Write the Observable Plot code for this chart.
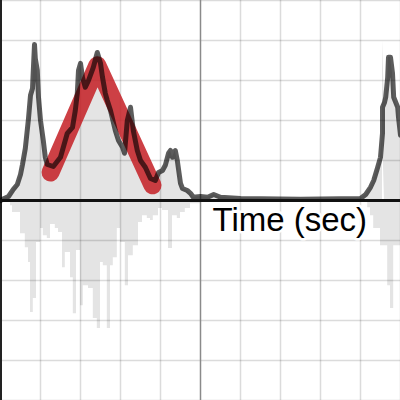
<!DOCTYPE html>
<html>
<head>
<meta charset="utf-8">
<script src="https://cdn.jsdelivr.net/npm/d3@7"></script>
<script src="https://cdn.jsdelivr.net/npm/@observablehq/plot@0.6"></script>
<style>
  html, body { margin: 0; padding: 0; background: #fff; }
  #chart svg { display: block; }
</style>
</head>
<body>
<div id="chart"></div>
<script>
// Envelope (dark gray) — time, amplitude
const envT = [-5,-4.95,-4.8,-4.68,-4.58,-4.5,-4.45,-4.38,-4.3,-4.25,-4.2,-4.18,-4.15,-4.13,-4.08,-4.05,-4.0,-3.93,-3.88,-3.83,-3.68,-3.5,-3.33,-3.2,-3.13,-3.08,-3.05,-3.0,-2.95,-2.88,-2.8,-2.68,-2.58,-2.5,-2.45,-2.38,-2.33,-2.25,-2.13,-2.05,-1.95,-1.9,-1.83,-1.75,-1.68,-1.58,-1.5,-1.38,-1.25,-1.13,-1.05,-0.95,-0.88,-0.8,-0.75,-0.7,-0.63,-0.58,-0.5,-0.45,-0.33,-0.25,-0.18,0,0.18,0.33,0.5,1.0,2.5,4.0,4.13,4.25,4.33,4.43,4.5,4.55,4.55,4.6,4.63,4.68,4.7,4.75,4.8,4.83,4.93,4.95,5.0];
const envV = [0,0.03,0.1,0.28,0.4,0.65,0.9,1.3,2.05,2.63,2.8,3.25,3.9,3.55,3.25,2.58,2.0,1.5,1.08,0.9,0.85,1.08,1.68,1.83,2.25,2.68,3.25,3.43,3.08,2.83,3.0,3.33,3.7,3.43,3.08,2.68,2.5,2.25,1.75,1.5,1.33,1.18,2.0,2.33,1.75,1.25,1.0,0.83,0.55,0.5,0.7,0.75,0.88,1.18,1.25,1.08,1.25,1.0,0.43,0.3,0.25,0.18,0.08,0.1,0.08,0.15,0.08,0.05,0.03,0.05,0.15,0.33,0.5,0.83,1.08,1.68,2.33,2.45,2.58,3.08,3.58,3.58,3.18,2.58,2.33,2.08,1.63];

// Negative excursions of the waveform (step starts)
const negT = [-5,-4.75,-4.7,-4.5,-4.38,-4.3,-4.25,-4.18,-4.1,-4.0,-3.93,-3.83,-3.75,-3.63,-3.55,-3.45,-3.38,-3.25,-3.18,-3.1,-3.0,-2.93,-2.8,-2.68,-2.58,-2.5,-2.43,-2.33,-2.25,-2.18,-2.08,-2.0,-1.88,-1.8,-1.68,-1.55,-1.45,-1.33,-1.25,-1.18,-1.05,-0.95,-0.8,-0.7,-0.58,-0.5,-0.38,-0.25,0,4.18,4.25,4.33,4.5,4.68,4.75,4.83,5.0];
const negV = [-0.05,-0.13,-0.3,-0.83,-1.18,-1.55,-2.8,-2.45,-1.05,-0.7,-0.88,-0.95,-0.6,-0.7,-0.8,-1.68,-1.3,-1.93,-2.83,-1.25,-2.63,-2.13,-2.2,-2.95,-3.2,-1.55,-1.63,-3.2,-1.63,-1.43,-0.7,-1.05,-2.13,-1.38,-1.13,-0.55,-0.38,-0.45,-0.5,-0.38,-0.2,-0.25,-1.2,-0.38,-0.45,-0.3,-0.2,-0.08,-0.03,-0.18,-0.38,-0.7,-1.13,-2.13,-2.7,-1.13,-1.13];

// Red fitted line
const redT = [-3.75,-2.58,-1.2];
const redV = [0.7,3.38,0.38];

const gridTicks = [-5,-4,-3,-2,-1,0,1,2,3,4,5];
const xLabel = "Time (sec)";

const env = envT.map((t,i)=>({t, v: envV[i]}));
const neg = negT.map((t,i)=>({t, v: negV[i]}));
const red = redT.map((t,i)=>({t, v: redV[i]}));

const chart = Plot.plot({
  width: 400, height: 400,
  margin: 0,
  x: {domain: [-5,5], axis: null},
  y: {domain: [-5,5], axis: null},
  marks: [
    Plot.areaY(env, {x: "t", y: "v", fill: "#e4e4e4"}),
    Plot.areaY(neg, {x: "t", y: "v", fill: "#e4e4e4", curve: "step-after"}),
    Plot.ruleX(gridTicks.filter(d => d !== 0 && d !== -5), {stroke: "#000", strokeOpacity: 0.14, strokeWidth: 1.5}),
    Plot.ruleY(gridTicks.filter(d => d !== 0), {stroke: "#000", strokeOpacity: 0.14, strokeWidth: 1.5}),
    Plot.ruleX([0], {stroke: "#8a8a8a", strokeWidth: 1.5}),
    Plot.ruleX([-5], {stroke: "#222", strokeWidth: 3}),
    Plot.line(red, {x: "t", y: "v", stroke: "#c41e24", strokeOpacity: 0.85, strokeWidth: 18, strokeLinecap: "round", strokeLinejoin: "round"}),
    Plot.line(env, {x: "t", y: "v", stroke: "#000", strokeOpacity: 0.64, strokeWidth: 5, strokeLinejoin: "round"}),
    Plot.text([xLabel], {x: 0.3, y: -0.75, text: d => d, textAnchor: "start", lineAnchor: "bottom", fontSize: 33, fontFamily: "Liberation Sans, Arial, sans-serif", fill: "#000", stroke: "#fff", strokeWidth: 5}),
    Plot.ruleY([0], {stroke: "#111", strokeWidth: 3})
  ]
});
document.getElementById("chart").appendChild(chart);
</script>
</body>
</html>
